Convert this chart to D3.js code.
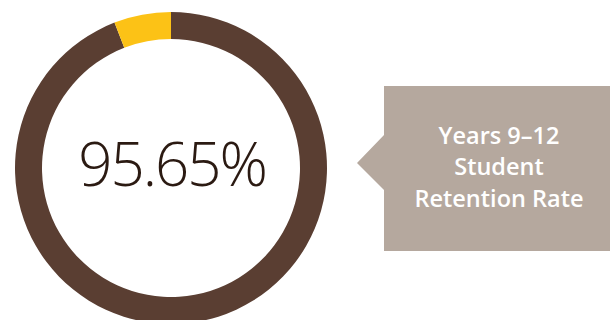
<!DOCTYPE html>
<html>
<head>
<meta charset="utf-8">
<script src="https://cdn.jsdelivr.net/npm/d3@7"></script>
<style>
  body { margin: 0; background: #fff; }
  svg { display: block; }
</style>
</head>
<body>
<div id="chart"></div>
<script>
// values read off the ring (retained vs not retained share of the circle)
var segments = ["Retained", "Not retained"];
var segValues = [94.1, 5.9];
var segColors = ["#5a3e32", "#fcc216"];
var centerLabel = "95.65%";
var calloutLines = ["Years 9\u201312", "Student", "Retention Rate"];

var svgWidth = 610;
var svgHeight = 320;

var svg = d3.select("#chart")
  .append("svg")
  .attr("width", svgWidth)
  .attr("height", svgHeight);

// ring
var cx = 171, cy = 168;
var outerR = 156, innerR = 129;

var pie = d3.pie()
  .sort(null)
  .value(d => d);

var arc = d3.arc()
  .innerRadius(innerR)
  .outerRadius(outerR);

var ring = svg.append("g")
  .attr("transform", `translate(${cx}, ${cy})`);

ring.selectAll("path")
  .data(pie(segValues))
  .enter()
  .append("path")
  .attr("d", arc)
  .attr("fill", (d, i) => segColors[i]);

ring.append("text")
  .attr("x", 1)
  .attr("y", 18)
  .attr("text-anchor", "middle")
  .style("font-family", "'Open Sans', sans-serif")
  .style("font-weight", 300)
  .style("font-size", "60px")
  .style("letter-spacing", "-2px")
  .attr("fill", "#2b1a12")
  .text(centerLabel);

// callout box with pointer
var bx = 384, by = 86, bw = 226, bh = 165;
var tipX = 357, tipY = 163;

svg.append("path")
  .attr("d", `M${bx},${by} H${bx + bw} V${by + bh} H${bx} V190 L${tipX},${tipY} L${bx},135 Z`)
  .attr("fill", "#b5a89e");

svg.append("g")
  .selectAll("text")
  .data(calloutLines)
  .enter()
  .append("text")
  .attr("x", 499)
  .attr("y", (d, i) => 143.5 + i * 31.6)
  .attr("text-anchor", "middle")
  .style("font-family", "'Open Sans', sans-serif")
  .style("font-weight", 600)
  .style("font-size", "23.5px")
  .attr("fill", "#ffffff")
  .text(d => d);
</script>
</body>
</html>
